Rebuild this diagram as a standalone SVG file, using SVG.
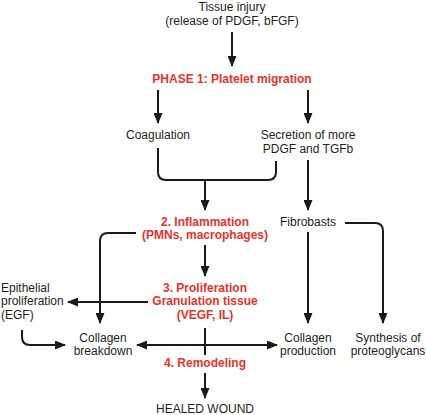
<svg xmlns="http://www.w3.org/2000/svg" width="426" height="415" viewBox="0 0 426 415">
<style>
.t{font-family:"Liberation Sans",Arial,sans-serif;font-size:12px;fill:#231f20;text-anchor:middle}
.r{font-family:"Liberation Sans",Arial,sans-serif;font-size:12px;font-weight:bold;fill:#e8322a;text-anchor:middle}
.l{stroke:#1a1a1a;stroke-width:2;fill:none}
.a{marker-end:url(#ah)}
</style>
<defs>
<marker id="ah" markerUnits="userSpaceOnUse" markerWidth="11" markerHeight="9" refX="10" refY="4.5" orient="auto">
<path d="M0,0 L11,4.5 L0,9 z" fill="#1a1a1a"/>
</marker>
</defs>
<g id="connectors">
<path class="l a" d="M232,32 V66"/>
<path class="l a" d="M158,90 V123"/>
<path class="l a" d="M308,90 V123"/>
<path class="l" d="M158,148 V172 Q158,180 166,180 H268 Q276,180 276,172 V161"/>
<path class="l a" d="M205,180 V210"/>
<path class="l a" d="M308,160 V210"/>
<path class="l a" d="M136,233 H108 Q100,233 100,241 V323"/>
<path class="l a" d="M205,245 V276"/>
<path class="l a" d="M345,223 H375 Q383,223 383,231 V323"/>
<path class="l a" d="M308,232 V323"/>
<path class="l a" d="M148,302 H68"/>
<path class="l a" d="M22,330 V337 Q22,345 30,345 H65"/>
<path class="l" d="M205,328 V355"/>
<path class="l a" d="M205,345 H137"/>
<path class="l a" d="M205,345 H277"/>
<path class="l a" d="M205,373 V398"/>
</g>
<g id="tissue"><text class="t" x="232" y="11">Tissue injury</text><text class="t" x="232" y="25">(release of PDGF, bFGF)</text></g>
<g id="phase1"><text class="r" x="232" y="83">PHASE 1: Platelet migration</text></g>
<g id="coag"><text class="t" x="158" y="139">Coagulation</text></g>
<g id="secretion"><text class="t" x="308" y="139">Secretion of more</text><text class="t" x="308" y="153">PDGF and TGFb</text></g>
<g id="inflammation"><text class="r" x="205" y="226">2. Inflammation</text><text class="r" x="205" y="239">(PMNs, macrophages)</text></g>
<g id="fibro"><text class="t" x="308" y="226">Fibrobasts</text></g>
<g id="prolif"><text class="r" x="205" y="292">3. Proliferation</text><text class="r" x="205" y="305">Granulation tissue</text><text class="r" x="205" y="319">(VEGF, IL)</text></g>
<g id="epith"><text class="t" x="1" y="292" style="text-anchor:start">Epithelial</text><text class="t" x="1" y="305" style="text-anchor:start">proliferation</text><text class="t" x="1" y="319" style="text-anchor:start">(EGF)</text></g>
<g id="breakdown"><text class="t" x="103" y="342">Collagen</text><text class="t" x="103" y="355">breakdown</text></g>
<g id="production"><text class="t" x="308" y="342">Collagen</text><text class="t" x="308" y="355">production</text></g>
<g id="synthesis"><text class="t" x="388" y="342">Synthesis of</text><text class="t" x="388" y="355">proteoglycans</text></g>
<g id="remodel"><text class="r" x="205" y="367">4. Remodeling</text></g>
<g id="healed"><text class="t" x="205" y="413">HEALED WOUND</text></g>
</svg>
